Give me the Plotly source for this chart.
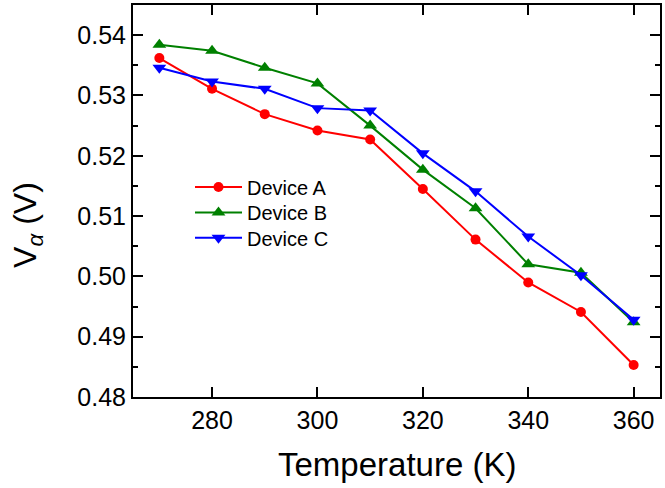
import plotly.graph_objects as go

temperature = [270, 280, 290, 300, 310, 320, 330, 340, 350, 360]
device_a = [0.5362, 0.5311, 0.5269, 0.5242, 0.5227, 0.5145, 0.5061, 0.4990, 0.4941, 0.4853]
device_b = [0.5384, 0.5374, 0.5346, 0.5320, 0.5250, 0.5177, 0.5113, 0.5020, 0.5006, 0.4924]
device_c = [0.5346, 0.5323, 0.5311, 0.5279, 0.5275, 0.5204, 0.5141, 0.5066, 0.5002, 0.4928]

series = [
    ("Device A", device_a, "#ff0000", "circle", 10, "legend"),
    ("Device B", device_b, "#008000", "triangle-up", 12, "legend2"),
    ("Device C", device_c, "#0000ff", "triangle-down", 12, "legend3"),
]

FONT = "Liberation Sans, Arial, sans-serif"

fig = go.Figure()
for name, vals, col, sym, msize, leg in series:
    fig.add_trace(go.Scatter(
        x=temperature, y=vals, name=name, mode="lines+markers",
        line=dict(color=col, width=2),
        marker=dict(color=col, symbol=sym, size=msize),
        legend=leg,
    ))

axis_common = dict(
    showline=True, linecolor="black", linewidth=2, mirror="ticks",
    ticks="inside", ticklen=10, tickwidth=2, tickcolor="black",
    showgrid=False, zeroline=False,
    tickfont=dict(family=FONT, size=25, color="black"),
)

fig.update_xaxes(range=[265, 365], tickvals=[280, 300, 320, 340, 360], **axis_common)
fig.update_yaxes(range=[0.48, 0.545], dtick=0.01, tick0=0.48, tickformat=".2f",
                 minor=dict(dtick=0.005, ticks="inside", ticklen=5, tickwidth=2, tickcolor="black"),
                 **axis_common)

W, H = 665, 488
L, R, T, B = 133, 5, 3, 91
pw, ph = W - L - R, H - T - B

def px_x(p):
    return (p - L) / pw

def px_y(p):
    return (H - B - p) / ph

fig.add_annotation(text="Temperature (K)", xref="paper", yref="paper",
                   x=px_x(397), y=px_y(465), xanchor="center", yanchor="middle",
                   showarrow=False, font=dict(family=FONT, size=33, color="black"))
fig.add_annotation(text="V<sub><i>α</i></sub> (V)", xref="paper", yref="paper",
                   x=px_x(28), y=px_y(224), xanchor="center", yanchor="middle",
                   textangle=-90, showarrow=False,
                   font=dict(family=FONT, size=32, color="black"))

legend_rows = {"legend": 186, "legend2": 211.5, "legend3": 237}
leg_layout = {}
for key, yc in legend_rows.items():
    leg_layout[key] = dict(
        x=px_x(190), y=px_y(yc), xanchor="left", yanchor="middle",
        bgcolor="rgba(0,0,0,0)", borderwidth=0,
        itemwidth=47,
        font=dict(family=FONT, size=20, color="black"),
    )

fig.update_layout(
    width=W, height=H,
    margin=dict(l=L, r=R, t=T, b=B),
    paper_bgcolor="white", plot_bgcolor="white",
    showlegend=True,
    **leg_layout,
)

fig.write_html("out.html")
